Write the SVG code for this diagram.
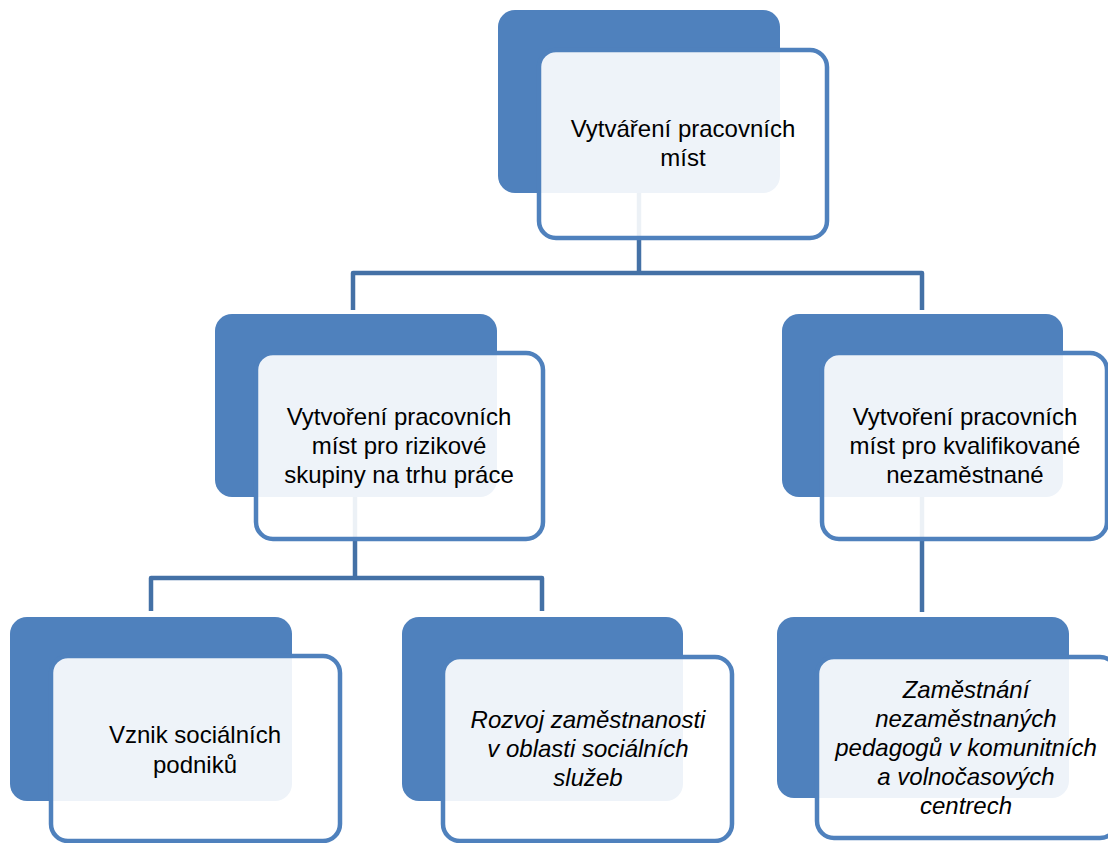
<svg xmlns="http://www.w3.org/2000/svg" width="1108" height="843" viewBox="0 0 1108 843">
<style>
.back{fill:#4F81BD}
.front{fill:#FFFFFF;fill-opacity:0.9;stroke:#4F81BD;stroke-width:4.5}
.conn{fill:none;stroke:#4471A6;stroke-width:4.5;stroke-linejoin:round}
text{font-family:"Liberation Sans",Arial,sans-serif;font-size:24px;fill:#000;text-anchor:middle}
.it{font-style:italic}
</style>
<rect width="1108" height="843" fill="#FFFFFF"/>
<g id="connectors">
<polyline class="conn" points="639,193 639,273"/>
<polyline class="conn" points="353,310 353,273 922,273 922,310"/>
<polyline class="conn" points="355,497 355,578"/>
<polyline class="conn" points="151,611 151,578 542,578 542,611"/>
<polyline class="conn" points="922,497 922,612"/>
</g>
<g id="node-top">
<rect class="back" x="498" y="10" width="282" height="183" rx="17"/>
<rect class="front" x="539" y="50" width="288" height="188" rx="17"/>
<text x="683" y="137">Vytváření pracovních</text>
<text x="683" y="166">míst</text>
</g>
<g id="node-mid-left">
<rect class="back" x="215" y="314" width="282" height="183" rx="17"/>
<rect class="front" x="256" y="353" width="287" height="186" rx="17"/>
<text x="399" y="425">Vytvoření pracovních</text>
<text x="399" y="454">míst pro rizikové</text>
<text x="399" y="483">skupiny na trhu práce</text>
</g>
<g id="node-mid-right">
<rect class="back" x="782" y="314" width="281" height="183" rx="17"/>
<rect class="front" x="822" y="353" width="285" height="186" rx="17"/>
<text x="965" y="425">Vytvoření pracovních</text>
<text x="965" y="454">míst pro kvalifikované</text>
<text x="965" y="483">nezaměstnané</text>
</g>
<g id="node-bottom-left">
<rect class="back" x="10" y="617" width="282" height="184" rx="17"/>
<rect class="front" x="51" y="656" width="289" height="185" rx="17"/>
<text x="195" y="743">Vznik sociálních</text>
<text x="195" y="773">podniků</text>
</g>
<g id="node-bottom-mid">
<rect class="back" x="402" y="617" width="281" height="184" rx="17"/>
<rect class="front" x="443" y="657" width="289" height="184" rx="17"/>
<text class="it" x="588" y="728">Rozvoj zaměstnanosti</text>
<text class="it" x="588" y="757">v oblasti sociálních</text>
<text class="it" x="588" y="786">služeb</text>
</g>
<g id="node-bottom-right">
<rect class="back" x="777" y="617" width="292" height="181" rx="17"/>
<rect class="front" x="817" y="657" width="300" height="181" rx="17"/>
<text class="it" x="966" y="698">Zaměstnání</text>
<text class="it" x="966" y="727">nezaměstnaných</text>
<text class="it" x="966" y="756">pedagogů v komunitních</text>
<text class="it" x="966" y="785">a volnočasových</text>
<text class="it" x="966" y="814">centrech</text>
</g>
</svg>
